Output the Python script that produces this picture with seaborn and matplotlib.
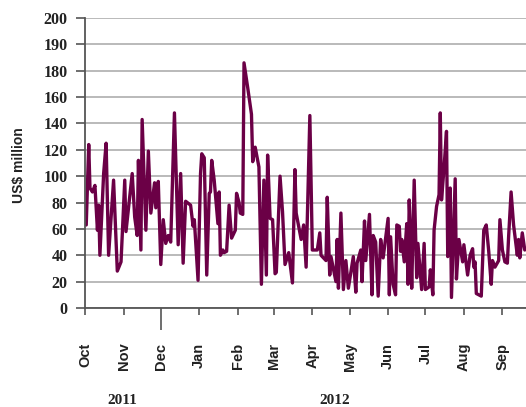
import matplotlib
matplotlib.use("Agg")
import matplotlib.pyplot as plt
import pandas as pd
import seaborn as sns

# Daily flows (US$ million)
start_date = "2011-10-01"
day_offsets = [1, 3, 4, 6, 8, 10, 11, 12, 15, 17, 19, 23, 26, 29, 32, 33, 38, 40, 42, 43,
               45, 46, 49, 51, 53, 56, 57, 59, 61, 63, 65, 67, 69, 72, 75, 77, 79, 81, 85, 87,
               88, 91, 93, 94, 96, 98, 100, 101, 102, 104, 107, 108, 109, 111, 112, 114, 116, 118, 121, 122,
               124, 125, 127, 128, 131, 134, 135, 137, 140, 142, 144, 146, 147, 149, 151, 153, 154, 157, 159, 161,
               164, 167, 169, 170, 174, 176, 178, 181, 183, 187, 189, 190, 194, 195, 197, 198, 202, 203, 204, 206,
               208, 210, 212, 216, 218, 219, 222, 223, 225, 226, 229, 231, 232, 234, 236, 238, 240, 242, 244, 245,
               246, 248, 250, 251, 253, 254, 255, 257, 259, 260, 261, 262, 263, 265, 267, 268, 271, 273, 274, 277,
               278, 280, 281, 283, 285, 286, 287, 289, 291, 292, 294, 295, 298, 299, 301, 304, 305, 308, 310, 312,
               313, 314, 315, 319, 321, 323, 325, 327, 328, 330, 333, 334, 336, 338, 340, 341, 343, 345, 348, 349,
               350, 352, 354]
flows = [63, 124, 91, 88, 93, 59, 78, 40, 102, 125, 40, 97, 28, 35, 97, 58, 102, 69, 55, 112,
         44, 143, 59, 119, 72, 95, 76, 96, 33, 67, 49, 55, 50, 148, 48, 102, 34, 81, 78, 62,
         67, 21, 102, 117, 114, 25, 87, 88, 112, 97, 64, 88, 40, 44, 42, 43, 78, 53, 59, 87,
         80, 72, 71, 186, 167, 147, 111, 122, 107, 18, 97, 25, 116, 68, 67, 26, 27, 100, 73, 33,
         42, 19, 105, 72, 52, 63, 31, 146, 44, 44, 57, 40, 36, 84, 25, 39, 20, 52, 15, 72,
         14, 36, 15, 39, 12, 34, 44, 20, 66, 36, 71, 10, 55, 50, 9, 52, 38, 53, 68, 10,
         54, 18, 10, 63, 62, 43, 52, 35, 64, 18, 82, 56, 15, 97, 23, 49, 14, 49, 14, 16,
         29, 10, 59, 77, 86, 148, 82, 106, 134, 39, 91, 8, 98, 22, 52, 35, 48, 25, 40, 45,
         31, 35, 11, 9, 59, 63, 43, 18, 36, 31, 36, 67, 44, 35, 34, 54, 88, 63, 40, 52,
         38, 57, 44]

month_labels = ["Oct", "Nov", "Dec", "Jan", "Feb", "Mar", "Apr", "May", "Jun", "Jul", "Aug", "Sep"]
year_labels = ["2011", "2012"]
y_ticks = [0, 20, 40, 60, 80, 100, 120, 140, 160, 180, 200, 220]
y_tick_labels = ["0", "20", "40", "60", "80", "100", "120", "140", "160", "180", "190", "200"]

sns.set_theme(style="white")
plt.rcParams["font.family"] = ["Liberation Sans", "DejaVu Sans"]

line_color = "#6b0046"
sans = ["Liberation Sans", "DejaVu Sans"]
serif = ["Liberation Serif", "DejaVu Serif"]

start = pd.Timestamp(start_date)
df = pd.DataFrame({
    "date": start + pd.to_timedelta(day_offsets, unit="D"),
    "flow": flows,
})
month_starts = pd.date_range(start, periods=len(month_labels), freq="MS")

W, H = 526, 407
fig = plt.figure(figsize=(W / 100, H / 100), dpi=100)
ax = fig.add_axes([85 / W, 1 - 308 / H, 1 - 85 / W, (308 - 18) / H])

ax.grid(axis="y", color="#b4b4b4", linewidth=1.3)
ax.grid(axis="x", visible=False)
ax.set_axisbelow(True)

sns.lineplot(data=df, x="date", y="flow", ax=ax, color=line_color, linewidth=2.4)

ax.set_xlim(start, start + pd.Timedelta(days=355))
ax.set_ylim(0, 220)
ax.set_yticks(y_ticks)
ax.set_yticklabels(y_tick_labels, family=serif, fontweight="bold", fontsize=11.5, color="#222222")
ax.set_xticks(month_starts)
ax.set_xticklabels(month_labels, rotation=90, family=sans, fontweight="bold",
                   fontsize=10.5, color="#222222")
ax.set_xlabel("")
ax.set_ylabel("")

ax.tick_params(axis="y", left=True, length=6.5, width=1.2, color="#555555", pad=6)
ax.tick_params(axis="x", bottom=True, length=5, width=1.2, color="#555555", pad=20)
# longer tick marks the year break
ax.xaxis.get_major_ticks()[2].tick1line.set_markersize(16)

for side in ["top", "right"]:
    ax.spines[side].set_visible(False)
for side in ["left", "bottom"]:
    ax.spines[side].set_color("#555555")
    ax.spines[side].set_linewidth(1.3)

fig.text(19 / W, 1 - 165 / H, "US$ million", rotation=90, ha="center", va="center",
         family=sans, fontweight="bold", fontsize=10, color="#222222")
fig.text(122 / W, 1 - 400 / H, year_labels[0], ha="center", va="center",
         family=serif, fontweight="bold", fontsize=11, color="#222222")
fig.text(335 / W, 1 - 400 / H, year_labels[1], ha="center", va="center",
         family=serif, fontweight="bold", fontsize=11, color="#222222")

fig.savefig("out.png", dpi=100)
